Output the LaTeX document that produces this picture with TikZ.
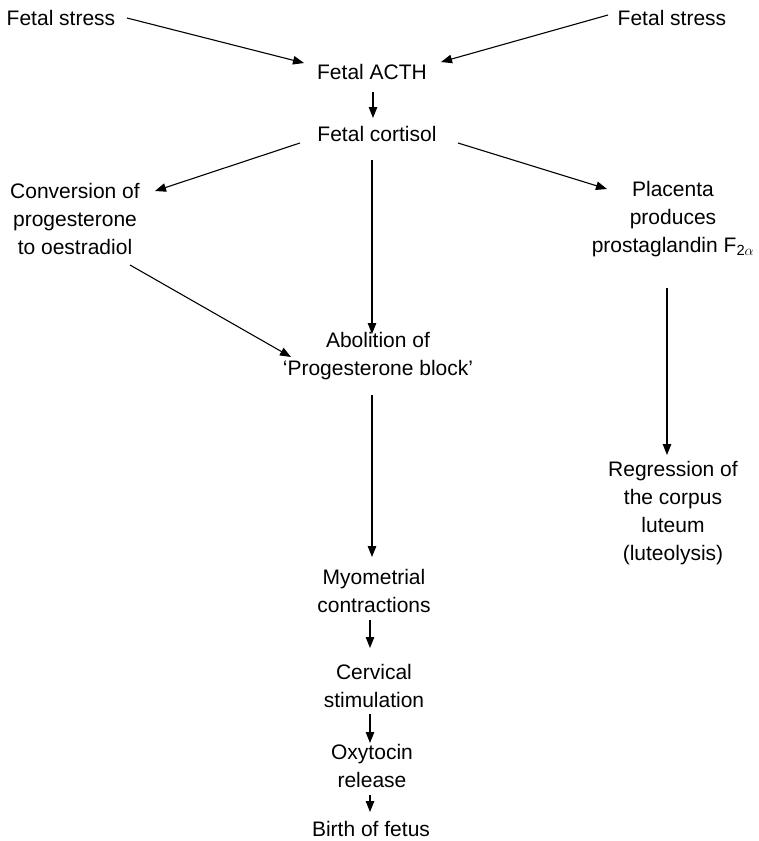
\documentclass[tikz,border=0pt]{standalone}
\usepackage{fontspec}
\setmainfont{Liberation Sans}
\usetikzlibrary{arrows.meta}
\begin{document}
\begin{tikzpicture}[x=1pt,y=-1pt,
  lbl/.style={align=center,inner sep=0pt,font=\fontsize{21}{27.8}\selectfont},
  flow/.style={line width=1.1pt,-{Triangle[length=11pt,width=8.5pt]}}]
\useasboundingbox (0,0) rectangle (759,841);
% labels
\node[lbl] (fsl) at (61,18) {Fetal stress};
\node[lbl] (fsr) at (672,18) {Fetal stress};
\node[lbl] (acth) at (372,72) {Fetal ACTH};
\node[lbl] (cort) at (377,134) {Fetal cortisol};
\node[lbl] (conv) at (75,219) {Conversion of\\progesterone\\to oestradiol};
\node[lbl] (plac) at (673,219) {Placenta\\produces\\prostaglandin F\textsubscript{2$\alpha$}};
\node[lbl] (abol) at (378,356) {Abolition of\\`Progesterone block'};
\node[lbl] (regr) at (673,513) {Regression of\\the corpus\\luteum\\(luteolysis)};
\node[lbl] (myo) at (374,591) {Myometrial\\contractions};
\node[lbl] (cerv) at (374,686) {Cervical\\stimulation};
\node[lbl] (oxy) at (372,766) {Oxytocin\\release};
\node[lbl] (birth) at (371,829) {Birth of fetus};
% connectors (end points offset from the label centres)
\draw[flow] ([shift={(66,0)}]fsl.center) -- ([shift={(-68,-9)}]acth.center);
\draw[flow] ([shift={(-64,-3)}]fsr.center) -- ([shift={(69,-10)}]acth.center);
\draw[flow] ([shift={(1,20)}]acth.center) -- ([shift={(-4,-16)}]cort.center);
\draw[flow] ([shift={(-77,9)}]cort.center) -- ([shift={(80,-28)}]conv.center);
\draw[flow] ([shift={(-5,26)}]cort.center) -- ([shift={(-6,-22)}]abol.center);
\draw[flow] ([shift={(81,9)}]cort.center) -- ([shift={(-66,-30)}]plac.center);
\draw[flow] ([shift={(55,46)}]conv.center) -- ([shift={(-87,1)}]abol.center);
\draw[flow] ([shift={(-6,69)}]plac.center) -- ([shift={(-6,-58)}]regr.center);
\draw[flow] ([shift={(-6,39)}]abol.center) -- ([shift={(-2,-34)}]myo.center);
\draw[flow] ([shift={(-4,29)}]myo.center) -- ([shift={(-4,-38)}]cerv.center);
\draw[flow] ([shift={(-4,28)}]cerv.center) -- ([shift={(-2,-23)}]oxy.center);
\draw[flow] ([shift={(-2,29)}]oxy.center) -- ([shift={(-1,-17)}]birth.center);
\end{tikzpicture}
\end{document}
